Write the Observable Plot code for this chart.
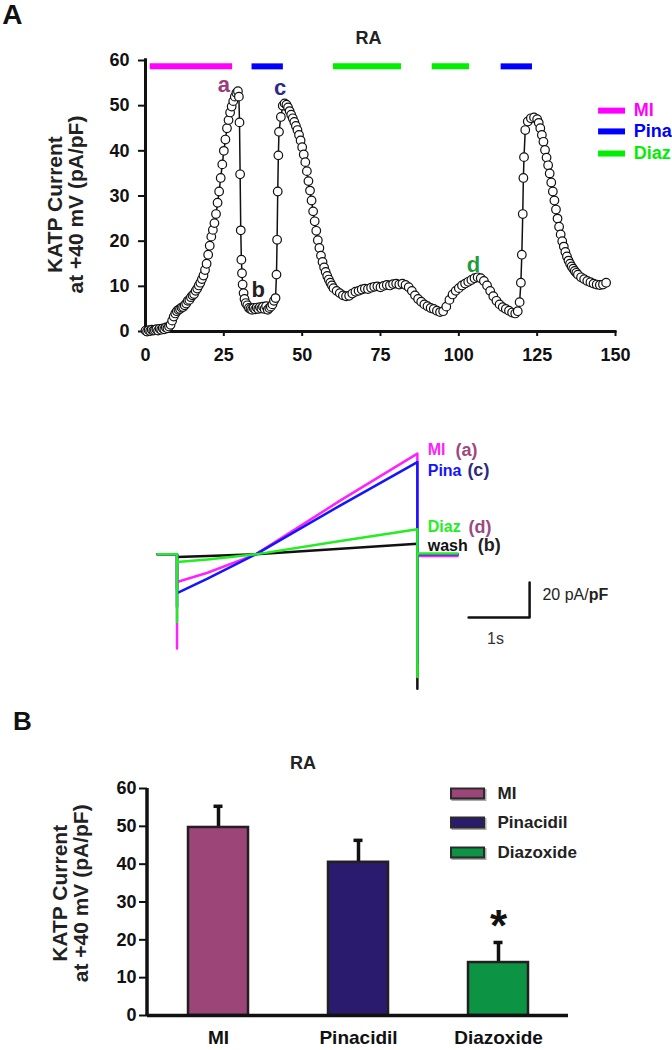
<!DOCTYPE html>
<html><head><meta charset="utf-8">
<script src="https://cdn.jsdelivr.net/npm/d3@7"></script>
<script src="https://cdn.jsdelivr.net/npm/@observablehq/plot@0.6"></script>
<style>
body{margin:0;background:#fff;}
#fig{position:relative;width:672px;height:1050px;overflow:hidden;background:#fff;}
#fig svg{position:absolute;left:0;}
</style></head><body><div id="fig"></div>
<script>
const FONT = '"Liberation Sans", Arial, sans-serif';

// ---------- Panel A (time course) ----------
const timeS = [0,0.5,1,1.5,2,2.5,3,3.5,4,4.5,5,5.5,6,6.5,7,7.5,8,8.5,9,9.5,10,10.5,11,11.5,12,12.5,13,13.5,14,14.5,15,15.5,16,16.5,17,17.5,18,18.5,19,19.5,20,20.5,21,21.5,22,22.5,23,23.5,24,24.5,25,25.5,26,26.5,27,27.5,28,28.5,29,29.5,29.8,30,30.2,30.4,30.6,30.8,31,31.3,31.6,32,32.5,33,33.5,34,34.5,35,35.5,36,36.5,37,37.5,38,38.5,39,39.5,40,40.5,41,41.5,41.8,42,42.2,42.4,42.6,43.2,43.8,44.4,45,45.5,46,46.5,47,47.5,48,48.5,49,49.5,50,50.5,51,51.5,52,52.5,53,53.5,54,54.5,55,55.5,56,56.5,57,57.5,58,58.5,59,59.5,60,61,62,63,64,65,66,67,68,69,70,71,72,73,74,75,76,77,78,79,80,81,82,83,84,85,86,87,88,89,90,91,92,93,94,95,96,97,98,99,100,101,102,103,104,105,106,107,108,109,110,111,112,113,114,115,116,117,118,118.8,119.4,119.8,120.1,120.4,120.6,120.8,121.2,122,123,124,125,125.5,126,126.5,127,127.5,128,128.5,129,129.5,130,130.5,131,131.5,132,132.5,133,133.5,134,134.5,135,135.5,136,136.5,137,137.5,138,139,140,141,142,143,144,145,146,147];
const katp = [0.2,0.0,0.3,0.1,0.4,0.2,0.3,0.5,0.2,0.6,0.4,0.7,0.5,0.9,0.7,1.1,1.5,2.4,3.3,4.0,4.5,4.8,5.0,5.3,5.4,5.8,6.2,6.8,7.0,7.6,8.0,8.3,9.0,9.5,10.2,10.8,11.6,12.4,13.6,15.0,17.0,19.0,21.0,22.5,24.0,26.0,28.5,31.0,34.0,37.0,40.0,42.5,45.0,46.8,48.5,49.8,51.0,52.0,52.8,53.2,52.0,46.3,34.8,22.4,15.9,12.9,10.4,8.5,7.2,6.3,5.8,5.2,5.0,4.8,5.2,4.9,5.3,5.0,5.4,5.1,5.5,5.0,5.6,4.8,5.2,5.5,6.0,6.8,7.4,12.6,20.3,31.0,39.0,44.2,47.5,50.0,50.5,50.2,49.6,48.8,48.0,47.2,46.4,45.5,44.6,43.5,42.3,40.8,39.2,37.5,35.5,33.3,31.2,29.0,26.6,24.4,22.3,20.2,18.5,16.8,15.4,14.2,13.2,12.3,11.5,10.8,10.2,9.6,9.0,8.5,8.0,7.8,7.9,8.4,8.8,9.0,9.3,9.5,9.4,9.7,9.9,10.0,9.8,10.1,10.3,10.2,10.5,10.6,10.4,10.6,10.3,9.8,9.0,8.0,7.2,6.6,6.0,5.6,5.2,5.0,4.6,4.3,4.5,5.5,7.0,8.2,9.0,9.6,10.2,10.6,11.0,11.4,11.8,12.0,11.8,11.2,10.2,9.0,7.8,6.8,6.0,5.4,5.0,4.6,4.2,4.0,4.5,6.5,10.8,17.0,26.0,34.0,38.6,44.6,46.5,47.2,47.4,47.0,46.2,45.0,43.5,42.0,40.2,38.5,36.8,35.0,33.0,31.0,29.0,27.0,25.0,23.2,21.5,20.0,18.8,17.6,16.6,15.7,15.0,14.4,13.9,13.4,13.0,12.6,12.0,11.6,11.2,10.9,10.6,10.4,10.3,10.4,10.8];
const xTicksA = [0,25,50,75,100,125,150];
const yTicksA = [0,10,20,30,40,50,60];
const drugNames = ["MI","Pina","Diaz"];
const drugColors = ["#ff00ff","#0000ff","#00ee00"];
const applyDrug = ["MI","Pina","Diaz","Diaz","Pina"];
const applyStart = [1.5,34,60,91.5,113.5];
const applyEnd = [27.8,44,81.7,103.4,123.5];
const applyLevel = 58.7;
const legendLevelsA = [48.9,44.3,39.4];
const pointLabels = ["a","b","c","d"];
const pointLabelT = [25,36,43,104.7];
const pointLabelV = [54.5,9.3,54,14.8];
const pointLabelColors = ["#9b3c7a","#222222","#2d2a8a","#1f9a3c"];

// ---------- Panel A (ramp traces) ----------
const traceNames = ["MI","Pina","Diaz","wash"];
const traceColors = ["#ff22ff","#1414ff","#22ee22","#111111"];
const rampTimes = [0.32,0.82,1.61,3.0,4.26];
const rampMI = [-15.8,-10.5,0,30.8,57.5];
const rampPina = [-22.1,-13.9,0,28.0,52.7];
const rampDiaz = [-4.4,-2.9,0,7.6,14.3];
const rampWash = [-1.5,-1.0,0,3.2,6.1];
const spikeOnValues = [-53.8,-30,-38.6,-20];
const spikeOffValues = [-60,-62,-70,-76.7];
const tailValues = [-1,0,0.5,0];
const holdTimes = [0,0.32,4.26,4.92];
const traceLetters = ["(a)","(c)","(d)","(b)"];
const traceLetterColors = ["#9b4a80","#2d2a7a","#9b4a80","#222222"];
const traceLabelValues = [59.4,47.9,15.6,5.0];

// ---------- Panel B (bars) ----------
const barNames = ["MI","Pinacidil","Diazoxide"];
const barMeans = [49.7,40.5,14.0];
const barErrors = [5.6,5.8,5.3];
const barColors = ["#9b4578","#2b1b6e","#0c9444"];
const yTicksB = [0,10,20,30,40,50,60];
const legendLevelsB = [58.7,51.0,43.1];

const fig = document.getElementById("fig");
function place(svg, top){ svg.style.top = top + "px"; fig.appendChild(svg); }
const baseStyle = {fontFamily: FONT, fontSize: "18px", fontWeight: "bold", color: "#111", background: "transparent", overflow: "visible"};

// ===== Plot 1: time course =====
const seriesA = timeS.map((t,i)=>({t, v: katp[i]}));
const applications = applyDrug.map((d,i)=>({drug: d, start: applyStart[i], end: applyEnd[i]}));
const labelsA = pointLabels.map((s,i)=>({s, t: pointLabelT[i], v: pointLabelV[i], c: pointLabelColors[i]}));

const plotA = Plot.plot({
  width: 672, height: 382, marginLeft: 145, marginRight: 57, marginTop: 60, marginBottom: 51,
  style: baseStyle,
  x: {domain: [0,150]}, y: {domain: [0,60]},
  color: {domain: drugNames, range: drugColors},
  marks: [
    Plot.axisX({ticks: xTicksA, tickSize: 5, tickPadding: 12, strokeWidth: 2, label: null}),
    Plot.axisY({ticks: yTicksA, tickSize: 7, tickPadding: 9, strokeWidth: 2, label: null}),
    Plot.ruleY([0], {x1: 0, x2: 150.5, stroke: "#111", strokeWidth: 3}),
    Plot.ruleX([0], {y1: 0, y2: 60.4, stroke: "#111", strokeWidth: 3}),
    Plot.ruleY(applications, {x1: "start", x2: "end", y: () => applyLevel, stroke: "drug", strokeWidth: 6}),
    Plot.line(seriesA, {x: "t", y: "v", stroke: "#111", strokeWidth: 1.5}),
    Plot.dot(seriesA, {x: "t", y: "v", r: 4.3, fill: "white", stroke: "#111", strokeWidth: 1.2}),
    ...labelsA.map(l => Plot.text([l], {x: "t", y: "v", text: "s", fill: l.c, fontSize: 22})),
    Plot.ruleY(drugNames, {x1: () => 144.6, x2: () => 153.2, y: (d,i) => legendLevelsA[i], stroke: d => d, strokeWidth: 6}),
    Plot.text(drugNames, {x: () => 155.8, y: (d,i) => legendLevelsA[i], text: d => d, fill: d => d, textAnchor: "start", fontSize: 18}),
    Plot.text(["RA"], {x: () => 71.2, y: () => 64.9, text: d => d, fontSize: 18, fill: "#222"}),
    Plot.text(["A"], {x: () => -42.5, y: () => 70, text: d => d, fontSize: 28, fill: "#111"}),
    Plot.text(["KATP Current\nat +40 mV (pA/pF)"], {x: () => -25.4, y: () => 28.1, text: d => d, rotate: -90, fontSize: 21, lineHeight: 1, fill: "#222"})
  ]
});
place(plotA, 0);

// ===== Plot 2: ramp current traces =====
function traceRows(i, ramp){
  const rows = [{t: holdTimes[0], v: 0}, {t: holdTimes[1], v: 0}, {t: holdTimes[1], v: spikeOnValues[i]}];
  rampTimes.forEach((t,k) => rows.push({t, v: ramp[k]}));
  rows.push({t: holdTimes[2], v: spikeOffValues[i]});
  rows.push({t: holdTimes[2], v: tailValues[i]});
  rows.push({t: holdTimes[3], v: tailValues[i]});
  return rows;
}
const ramps = [rampMI, rampPina, rampDiaz, rampWash];
const drawOrder = [3,0,1,2];
const traceMarks = drawOrder.map(i => Plot.line(traceRows(i, ramps[i]), {x: "t", y: "v", stroke: traceColors[i], strokeWidth: 2.5}));
const labelTime = 4.43;
const letterTimes = [4.885,5.08,5.10,5.25];
const scaleBarT = [5.1,6.1,6.1];
const scaleBarV = [-36,-36,-16];
const scaleBar = scaleBarT.map((t,i)=>({t, v: scaleBarV[i]}));

const plotTr = Plot.plot({
  width: 672, height: 304, marginLeft: 157, marginRight: 27, marginTop: 40, marginBottom: 10,
  style: baseStyle,
  x: {domain: [0,8], axis: null}, y: {domain: [-80,65], axis: null},
  marks: [
    ...traceMarks,
    ...traceNames.map((n,i) => Plot.text([n], {x: () => labelTime, y: () => traceLabelValues[i], text: d => d, fill: traceColors[i], textAnchor: "start", fontSize: 16})),
    ...traceLetters.map((n,i) => Plot.text([n], {x: () => letterTimes[i], y: () => traceLabelValues[i], text: d => d, fill: traceLetterColors[i], textAnchor: "start", fontSize: 18})),
    Plot.line(scaleBar, {x: "t", y: "v", stroke: "#111", strokeWidth: 2.5}),
    Plot.text(["20 pA/"], {x: () => 6.31, y: () => -23.4, text: d => d, textAnchor: "start", fontSize: 16, fontWeight: "normal", fill: "#222"}),
    Plot.text(["pF"], {x: () => 7.07, y: () => -23.4, text: d => d, textAnchor: "start", fontSize: 16, fill: "#222"}),
    Plot.text(["1s"], {x: () => 5.54, y: () => -48, text: d => d, fontSize: 16, fontWeight: "normal", fill: "#333"})
  ]
});
place(plotTr, 400);

// ===== Plot 3: bar chart =====
const barData = barNames.map((name,i)=>({name, mean: barMeans[i], err: barErrors[i]}));
const yAxisLineB = (index, scales, values, dims) => {
  const x0 = dims.marginLeft;
  return d3.create("svg:line").attr("x1", x0).attr("x2", x0)
    .attr("y1", scales.y(0)).attr("y2", scales.y(60))
    .attr("stroke", "#111").attr("stroke-width", 3.5).node();
};
const plotB = Plot.plot({
  width: 672, height: 350, marginLeft: 147, marginRight: 104, marginTop: 88, marginBottom: 35,
  style: baseStyle,
  x: {domain: barNames, paddingInner: 0.574, paddingOuter: 0.28},
  y: {domain: [0,60]},
  color: {domain: barNames, range: barColors},
  marks: [
    Plot.axisX({tickSize: 0, tickPadding: 15, fontSize: 19, label: null}),
    Plot.axisY({ticks: yTicksB, tickSize: 8, tickPadding: 3, strokeWidth: 2, label: null}),
    Plot.ruleX(barData, {x: "name", y1: "mean", y2: d => d.mean + d.err, stroke: "#111", strokeWidth: 3.5}),
    Plot.tickY(barData, {x: "name", y: d => d.mean + d.err, stroke: "#111", strokeWidth: 3.5, insetLeft: 25.5, insetRight: 25.5}),
    Plot.barY(barData, {x: "name", y: "mean", fill: "name", stroke: "#231f20", strokeWidth: 2.5}),
    Plot.ruleY([0], {stroke: "#111", strokeWidth: 3.5}),
    yAxisLineB,
    Plot.text(["*"], {x: () => "Diazoxide", y: () => 23.3, text: d => d, fontSize: 44, fill: "#111"}),
    Plot.ruleY(barNames, {y: (d,i) => legendLevelsB[i] - 0.4, insetLeft: 304.5, insetRight: 81.5, stroke: "#aaa", strokeWidth: 12}),
    Plot.ruleY(barNames, {y: (d,i) => legendLevelsB[i], insetLeft: 303, insetRight: 83, stroke: "#2a2a2a", strokeWidth: 12}),
    Plot.ruleY(barNames, {y: (d,i) => legendLevelsB[i], insetLeft: 305, insetRight: 85, stroke: d => d, strokeWidth: 8}),
    Plot.text(barNames, {y: (d,i) => legendLevelsB[i], frameAnchor: "left", dx: 350, text: d => d, textAnchor: "start", fontSize: 17, fill: "#222"}),
    Plot.text(["RA"], {frameAnchor: "top", dx: -55, dy: -25, text: d => d, textAnchor: "middle", lineAnchor: "middle", fontSize: 18, fill: "#222"}),
    Plot.text(["B"], {frameAnchor: "top-left", dx: -125, dy: -67, text: d => d, textAnchor: "middle", lineAnchor: "middle", fontSize: 26, fill: "#111"}),
    Plot.text(["KATP Current\nat +40 mV (pA/pF)"], {frameAnchor: "left", y: () => 32.3, dx: -77, text: d => d, textAnchor: "middle", lineAnchor: "middle", rotate: -90, fontSize: 21, lineHeight: 1, fill: "#222"})
  ]
});
place(plotB, 700);
</script></body></html>
